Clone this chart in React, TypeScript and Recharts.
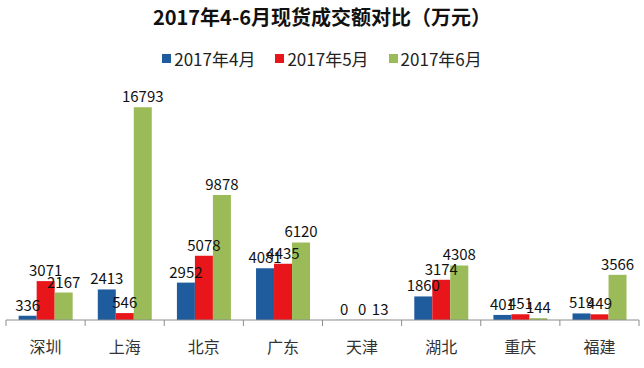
import React from "react";
import { BarChart, Bar, XAxis, YAxis, LabelList } from "recharts";

const cities = ["深圳", "上海", "北京", "广东", "天津", "湖北", "重庆", "福建"];
const april = [336, 2413, 2952, 4081, 0, 1860, 401, 519];
const may = [3071, 546, 5078, 4435, 0, 3174, 451, 449];
const june = [2167, 16793, 9878, 6120, 13, 4308, 144, 3566];

const series = [
  { key: "april", name: "2017年4月", color: "#1f5c9e" },
  { key: "may", name: "2017年5月", color: "#e8161b" },
  { key: "june", name: "2017年6月", color: "#9bbb59" }
];

const data = cities.map((city, i) => ({
  city,
  april: april[i],
  may: may[i],
  june: june[i]
}));

const W = 644;
const H = 368;
const LEFT = 6;
const RIGHT = 5;
const BAND = (W - LEFT - RIGHT) / cities.length;
const FONT = "'Noto Sans CJK SC', 'Noto Sans', sans-serif";

function CityTick(props: any) {
  const { x, y, payload, index } = props;
  const half = BAND / 2;
  return (
    <g>
      <line x1={x - half} y1={y - 8} x2={x - half} y2={y - 2} stroke="#8c8c8c" />
      {index === cities.length - 1 && (
        <line x1={x + half} y1={y - 8} x2={x + half} y2={y - 2} stroke="#8c8c8c" />
      )}
      <text x={x} y={y + 25} textAnchor="middle" fontSize={16} fill="#333" fontFamily={FONT}>
        {payload.value}
      </text>
    </g>
  );
}

// zero values still get a (invisible) bar so their "0" label is drawn
const zeroSize = (value: any) => (value === 0 ? 0.1 : 0);

export default function App() {
  return (
    <div style={{ position: "fixed", left: 0, top: 0, width: W, height: H, background: "#fff" }}>
      <div
        style={{
          position: "absolute",
          top: 2,
          width: W,
          textAlign: "center",
          fontFamily: FONT,
          fontWeight: 700,
          fontSize: 20,
          color: "#111"
        }}
      >
        2017年4-6月现货成交额对比（万元）
      </div>
      <div
        style={{
          position: "absolute",
          top: 46,
          width: W,
          display: "flex",
          justifyContent: "center",
          gap: 20,
          fontFamily: FONT,
          fontSize: 17,
          color: "#222"
        }}
      >
        {series.map((s) => (
          <div key={s.key} style={{ display: "flex", alignItems: "center" }}>
            <span style={{ width: 9, height: 9, background: s.color, marginRight: 3 }} />
            <span>{s.name}</span>
          </div>
        ))}
      </div>
      <BarChart
        width={W}
        height={H}
        data={data}
        margin={{ top: 92, right: RIGHT, left: LEFT, bottom: 0 }}
        barCategoryGap="16%"
        barGap={0}
      >
        <XAxis
          dataKey="city"
          height={48}
          interval={0}
          tickLine={false}
          axisLine={{ stroke: "#8c8c8c" }}
          tick={<CityTick />}
        />
        <YAxis hide domain={[0, 18000]} />
        {series.map((s) => (
          <Bar
            key={s.key}
            dataKey={s.key}
            name={s.name}
            fill={s.color}
            minPointSize={zeroSize}
            isAnimationActive={false}
          >
            <LabelList dataKey={s.key} position="top" fill="#111" fontSize={15} fontFamily={FONT} />
          </Bar>
        ))}
      </BarChart>
    </div>
  );
}
